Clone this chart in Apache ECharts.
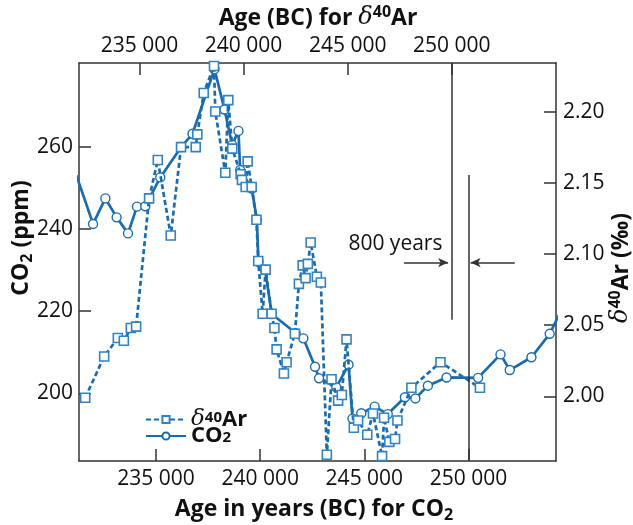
<!DOCTYPE html>
<html>
<head>
<meta charset="utf-8">
<script src="https://cdn.jsdelivr.net/npm/echarts@6/dist/echarts.min.js"></script>
<style>
html,body{margin:0;padding:0;background:#fff;}
#chart{width:633px;height:525px;}
</style>
</head>
<body>
<div id="chart"></div>
<script>
// CO2 (bottom axis: age in years BC for CO2)
const co2Years = [231174, 231975, 232565, 233106, 233653, 234084, 234482, 235201, 236208, 236750, 237804, 238284, 238653, 238955, 239037, 239597, 239837, 239914, 240235, 240556, 241697, 242071, 242632, 242824, 243653, 244238, 244430, 244852, 245494, 246122, 246947, 247450, 248049, 248946, 250461, 251535, 251980, 253021, 253898, 254473];
const co2Ppm = [253.0, 241.2, 247.4, 242.8, 238.9, 245.4, 245.5, 252.5, 259.9, 263.1, 278.8, 269.0, 260.4, 263.8, 254.3, 249.8, 242.3, 232.0, 230.0, 219.3, 214.7, 213.4, 206.5, 203.7, 201.5, 207.0, 193.9, 195.2, 196.8, 195.0, 199.1, 198.8, 201.9, 203.9, 203.8, 209.5, 205.7, 208.8, 214.5, 220.4];
// d40Ar (top axis: age BC for d40Ar)
const arYears = [232397, 233308, 233964, 234252, 234588, 234842, 235465, 235882, 236505, 236999, 237704, 237781, 238087, 238581, 238643, 239123, 239267, 239458, 239861, 239923, 240101, 240197, 240388, 240619, 240705, 240916, 241060, 241347, 241481, 241587, 241937, 242066, 242464, 242656, 242838, 242977, 243087, 243222, 243519, 243711, 243998, 244224, 244540, 244717, 244943, 245293, 245499, 245940, 246213, 246649, 246745, 246999, 247273, 247388, 248059, 249454, 251348];
const arValues = [1.999, 2.028, 2.041, 2.039, 2.048, 2.049, 2.139, 2.166, 2.113, 2.175, 2.175, 2.184, 2.213, 2.232, 2.200, 2.157, 2.208, 2.174, 2.156, 2.152, 2.147, 2.165, 2.147, 2.124, 2.095, 2.058, 2.089, 2.058, 2.048, 2.033, 2.016, 2.024, 2.044, 2.079, 2.092, 2.083, 2.093, 2.108, 2.084, 2.080, 1.959, 2.012, 1.997, 2.001, 2.040, 1.978, 1.983, 1.973, 1.988, 1.958, 1.985, 1.968, 1.970, 1.983, 2.006, 2.024, 2.006];
// ticks
const bottomTicks = [235000, 240000, 245000, 250000];
const topTicks = [235000, 240000, 245000, 250000];
const leftTicks = [200, 220, 240, 260];
const rightTicks = [2.00, 2.05, 2.10, 2.15, 2.20];
// annotation (800-year lag)
const lagLabel = '800 years';
const lagTopAxisAge = 250000;   // long line, on δ40Ar age axis
const lagBottomAxisAge = 250000; // short line, on CO2 age axis
const lagYears = 800;

const BLUE = '#1a6cae';
const SYM = '#3283c4';
const FONT = '"Open Sans", "DejaVu Sans", sans-serif';
const SERIF = '"DejaVu Serif", "Liberation Serif", serif';

function fmtAge(v){ return String(v).replace(/\B(?=(\d{3})+(?!\d))/g, ' '); }

const chart = echarts.init(document.getElementById('chart'), null, {renderer:'canvas'});

const axisCommon = {
  type: 'value',
  axisLine: {show: true, onZero: false, lineStyle: {color: '#333', width: 1.5}},
  axisTick: {show: true, inside: true, length: 12, lineStyle: {color: '#333', width: 1.5}},
  splitLine: {show: false},
  axisLabel: {color: '#111', fontSize: 21, fontFamily: FONT}
};

const bMin = 231300, bMax = 254200;

const option = {
  animation: false,
  backgroundColor: '#fff',
  grid: {left: 79, right: 77, top: 63, bottom: 64, containLabel: false},
  xAxis: [
    Object.assign({}, axisCommon, {
      position: 'bottom', min: bMin, max: bMax,
      axisTick: Object.assign({}, axisCommon.axisTick, {customValues: bottomTicks}),
      axisLabel: Object.assign({}, axisCommon.axisLabel, {customValues: bottomTicks, formatter: fmtAge, margin: 8})
    }),
    Object.assign({}, axisCommon, {
      position: 'top', min: bMin + lagYears, max: bMax + lagYears,
      axisTick: Object.assign({}, axisCommon.axisTick, {customValues: topTicks}),
      axisLabel: Object.assign({}, axisCommon.axisLabel, {customValues: topTicks, formatter: fmtAge, margin: 6})
    })
  ],
  yAxis: [
    Object.assign({}, axisCommon, {
      position: 'left', min: 183.6, max: 280.3,
      axisTick: Object.assign({}, axisCommon.axisTick, {customValues: leftTicks}),
      axisLabel: Object.assign({}, axisCommon.axisLabel, {customValues: leftTicks, margin: 6})
    }),
    Object.assign({}, axisCommon, {
      position: 'right', min: 1.9546, max: 2.2341,
      axisTick: Object.assign({}, axisCommon.axisTick, {customValues: rightTicks}),
      axisLabel: Object.assign({}, axisCommon.axisLabel, {customValues: rightTicks, margin: 7, formatter: v => v.toFixed(2)})
    })
  ],
  legend: {
    orient: 'vertical', left: 140, top: 403,
    itemWidth: 40, itemHeight: 9, itemGap: -6,
    data: ['δ40Ar', 'CO2'],
    formatter: function(name){
      return name === 'CO2' ? '{b|CO}{sub|2}' : '{d|δ}{sup|40}{b|Ar}';
    },
    textStyle: {
      padding: [0,0,0,0],
      rich: {
        b: {fontSize: 22, fontWeight: 'bold', fontFamily: FONT, color: '#111', lineHeight: 19},
        d: {fontSize: 23, fontStyle: 'italic', fontFamily: SERIF, color: '#111', lineHeight: 19},
        sup: {fontSize: 15, fontWeight: 'bold', fontFamily: FONT, color: '#111', lineHeight: 9, verticalAlign: 'top'},
        sub: {fontSize: 15, fontWeight: 'bold', fontFamily: FONT, color: '#111', lineHeight: 9, verticalAlign: 'bottom'}
      }
    }
  },
  graphic: [
    {type: 'text', x: 318, y: 18, style: {
      text: '{b|Age (BC) for }{d|δ}{sup|40}{b|Ar}', align: 'center', verticalAlign: 'middle',
      rich: {
        b: {fontSize: 23, fontWeight: 'bold', fontFamily: FONT, fill: '#111', lineHeight: 28},
        d: {fontSize: 24, fontStyle: 'italic', fontFamily: SERIF, fill: '#111', lineHeight: 28},
        sup: {fontSize: 16, fontWeight: 'bold', fontFamily: FONT, fill: '#111', lineHeight: 14, verticalAlign: 'top'}
      }}},
    {type: 'text', x: 314, y: 509, style: {
      text: '{b|Age in years (BC) for CO}{sub|2}', align: 'center', verticalAlign: 'middle',
      rich: {
        b: {fontSize: 23, fontWeight: 'bold', fontFamily: FONT, fill: '#111', lineHeight: 28},
        sub: {fontSize: 16, fontWeight: 'bold', fontFamily: FONT, fill: '#111', lineHeight: 14, verticalAlign: 'bottom'}
      }}},
    {type: 'text', x: 21, y: 238, rotation: Math.PI/2, style: {
      text: '{b|CO}{sub|2}{b| (ppm)}', align: 'center', verticalAlign: 'middle',
      rich: {
        b: {fontSize: 23, fontWeight: 'bold', fontFamily: FONT, fill: '#111', lineHeight: 28},
        sub: {fontSize: 16, fontWeight: 'bold', fontFamily: FONT, fill: '#111', lineHeight: 14, verticalAlign: 'bottom'}
      }}},
    {type: 'text', x: 621, y: 268, rotation: Math.PI/2, style: {
      text: '{d|δ}{sup|40}{b|Ar (‰)}', align: 'center', verticalAlign: 'middle',
      rich: {
        b: {fontSize: 23, fontWeight: 'bold', fontFamily: FONT, fill: '#111', lineHeight: 28},
        d: {fontSize: 24, fontStyle: 'italic', fontFamily: SERIF, fill: '#111', lineHeight: 28},
        sup: {fontSize: 16, fontWeight: 'bold', fontFamily: FONT, fill: '#111', lineHeight: 14, verticalAlign: 'top'}
      }}}
  ],
  series: [
    {
      name: 'δ40Ar', type: 'line', xAxisIndex: 1, yAxisIndex: 1,
      data: arYears.map((y, i) => [y, arValues[i]]),
      symbol: 'rect', symbolSize: 9, showAllSymbol: true,
      lineStyle: {color: BLUE, width: 2.7, type: [5, 3]},
      itemStyle: {color: '#fff', borderColor: SYM, borderWidth: 1.6},
      z: 4
    },
    {
      name: 'CO2', type: 'line', xAxisIndex: 0, yAxisIndex: 0,
      data: co2Years.map((y, i) => [y, co2Ppm[i]]),
      symbol: 'circle', symbolSize: 9, showAllSymbol: true,
      lineStyle: {color: BLUE, width: 2.7},
      itemStyle: {color: '#fff', borderColor: BLUE, borderWidth: 1.4},
      z: 3,
      markLine: {
        silent: true, symbol: 'none', animation: false,
        label: {show: false},
        lineStyle: {color: '#333', width: 1.5, type: 'solid'},
        data: [
          [{coord: [lagTopAxisAge - lagYears, 280.3]}, {coord: [lagTopAxisAge - lagYears, 217.9]}],
          [{coord: [lagBottomAxisAge, 253.1]}, {coord: [lagBottomAxisAge, 183.6]}],
          [{coord: [246900, 231.8], symbol: 'none'}, {coord: [249020, 231.8], symbol: 'arrow', symbolSize: [7, 10]}],
          [{coord: [252220, 231.8], symbol: 'none'}, {coord: [250100, 231.8], symbol: 'arrow', symbolSize: [7, 10]}]
        ]
      },
      markPoint: {
        silent: true, animation: false,
        symbol: 'circle', symbolSize: 1,
        itemStyle: {color: 'rgba(0,0,0,0)'},
        label: {show: true, position: 'inside', formatter: lagLabel, color: '#111', fontSize: 21, fontFamily: FONT},
        data: [{coord: [246490, 236.3]}]
      }
    }
  ]
};
chart.setOption(option);
</script>
</body>
</html>
